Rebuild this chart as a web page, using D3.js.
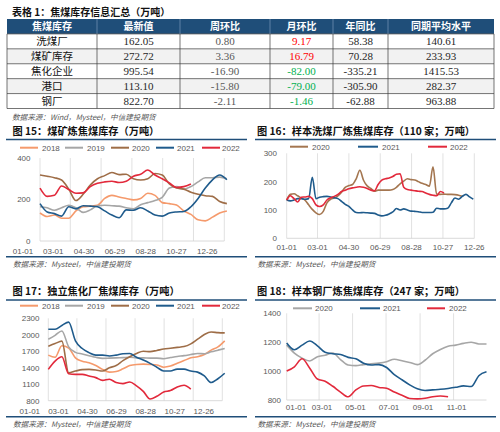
<!DOCTYPE html>
<html><head><meta charset="utf-8">
<script src="https://cdn.jsdelivr.net/npm/d3@7"></script>
<style>body{margin:0;background:#fff}svg{display:block}</style>
</head><body>
<script>
// ---------------- DATA ----------------
const tableTitle = '表格 1：焦煤库存信息汇总（万吨）';
const tableHeaders = ['焦煤库存','最新值','周环比','月环比','年同比','同期平均水平'];
const rowLabels = ['洗煤厂','煤矿库存','焦化企业','港口','钢厂'];
const latest = [162.05, 272.72, 995.54, 113.10, 822.70];
const weekChg = [0.80, 3.36, -16.90, -15.80, -2.11];
const monthChg = [9.17, 16.79, -82.00, -79.00, -1.46];
const yoy = [58.38, 70.28, -335.21, -305.90, -62.88];
const avgLevel = [140.61, 233.93, 1415.53, 282.37, 963.88];
const tableSource = '数据来源：Wind，Mysteel，中信建投期货';
const chartSource = '数据来源：Mysteel，中信建投期货';

const titles = ['图 15：煤矿炼焦煤库存（万吨）','图 16：样本洗煤厂炼焦煤库存（110 家；万吨）',
                '图 17：独立焦化厂焦煤库存（万吨）','图 18：样本钢厂炼焦煤库存（247 家；万吨）'];

// tick labels (day of year positions)
const tickDaysA = [0,59,119,179,239,299,359];
const tickLabelsA = ['01-01','03-01','04-30','06-29','08-28','10-27','12-26'];
const tickDaysB = [0,59,120,181,243,304];
const tickLabelsB = ['01-01','03-01','05-01','07-01','09-01','11-01'];

// Chart 15 (biweekly)
const c15_2018 = [135,118,125,110,110,145,165,168,172,205,220,212,205,198,205,230,220,185,180,173,145,128,102,97,115,135,145];
const c15_2019 = [165,160,148,160,172,160,138,150,170,172,170,168,160,155,175,185,195,210,255,262,250,262,285,305,305,308,300];
const c15_2020 = [318,312,305,294,250,195,225,270,300,315,330,320,322,300,294,300,325,318,275,255,250,235,225,218,215,190,180];
const c15_2021 = [180,140,132,120,165,155,170,168,165,145,125,112,150,148,160,145,125,120,135,140,142,165,205,255,295,318,295];
const c15_2022 = [255,215,220,265,248,230,232,262,278,285,288,282,288,312,322,342,318,300,280,258,262,275];

// Chart 16 (weekly)
const c16_2020 = [135,155,157,150,142,135,118,102,90,84,95,125,138,142,150,163,180,186,190,210,240,205,185,176,166,170,170,170,170,172,180,192,202,210,207,206,200,194,190,184,252,155,155,156,155,155,154,152,148];
const c16_2021 = [135,132,135,140,140,138,140,215,140,145,147,148,146,143,140,130,120,113,100,91,90,91,90,89,88,82,79,81,86,93,105,100,104,100,96,95,94,91,91,91,92,106,104,104,106,125,142,138,148,155,146,138];
const c16_2022 = [135,150,140,128,145,146,148,140,118,112,118,135,143,148,155,165,170,175,178,180,182,180,176,170,168,190,205,210,213,218,226,228,180,172,170,168,166,165,160,155,152,150,165,160];

// Chart 17 (biweekly)
const c17_2018 = [1630,1590,1800,1760,1580,1520,1490,1440,1370,1320,1330,1380,1440,1460,1465,1460,1450,1410,1430,1480,1530,1580,1600,1640,1720,1780,1890];
const c17_2019 = [1920,1990,2070,1780,1680,1650,1620,1590,1570,1575,1580,1585,1590,1580,1580,1575,1575,1565,1585,1605,1620,1640,1660,1655,1690,1720,1750];
const c17_2020 = [1790,1840,1885,1310,1340,1365,1370,1360,1340,1400,1440,1530,1600,1660,1700,1693,1715,1740,1755,1770,1785,1835,1920,2005,2050,2040,2035];
const c17_2021 = [2100,2100,2170,2230,1890,1750,1675,1630,1630,1615,1630,1655,1660,1590,1540,1480,1410,1340,1340,1375,1375,1340,1320,1250,1130,1200,1300];
const c17_2022 = [1370,1520,1600,1290,1280,1280,1250,1220,1170,1190,1130,1110,1140,1070,970,830,880,960,985,1050,1080,1010];

// Chart 18 (biweekly)
const c18_2020 = [1180,1125,1090,1070,1100,1110,1125,1080,1042,1038,1045,1050,1055,1065,1082,1072,1060,1045,1075,1120,1150,1172,1180,1192,1200,1188,1188];
const c18_2021 = [1195,1148,1180,1208,1175,1130,1120,1115,1095,1085,1055,1042,1045,1025,975,940,905,878,866,870,874,880,888,898,893,968,995];
const c18_2022 = [1000,1030,1085,1020,945,930,895,855,822,870,897,900,887,881,855,833,810,808,812,823,828,823];

// ---------------- DRAW ----------------
const CJK = '"Noto Sans CJK SC","Noto Sans",sans-serif';
const SERIF = '"Liberation Serif","Times New Roman",serif';
const SANS = '"Liberation Sans",Arial,sans-serif';
const BLUE = '#1f4e79';
const col = {y2018:'#f59a6c', y2019:'#a6a6a6', y2020:'#9e6d47', y2021:'#1f5b8c', y2022:'#e2293b'};

const svg = d3.select('body').append('svg').attr('width',500).attr('height',432);

// ---- table ----
svg.append('text').attr('x',12).attr('y',16).attr('font-family',CJK).attr('font-size',10)
  .attr('font-weight',700).attr('fill','#111').text(tableTitle);

const rowBand = d3.scaleBand().domain(['__h', ...rowLabels]).range([19,108.5]);
const colEdges = [7,97,180,270,333,388,494];
const colLeft = d3.scaleOrdinal().domain(tableHeaders).range(colEdges.slice(0,6));
const colRight = d3.scaleOrdinal().domain(tableHeaders).range(colEdges.slice(1));
const tbl = svg.append('g');

tbl.append('rect').attr('x',colEdges[0]).attr('y',rowBand('__h')).attr('width',colEdges[6]-colEdges[0])
  .attr('height',rowBand.bandwidth()).attr('fill',BLUE);
tbl.selectAll('text.h').data(tableHeaders).join('text')
  .attr('x',d=>(colLeft(d)+colRight(d))/2).attr('y',rowBand('__h')+rowBand.bandwidth()/2+3.6)
  .attr('text-anchor','middle').attr('font-family',CJK).attr('font-size',10).attr('font-weight',700)
  .attr('fill','#fff').text(d=>d);
tbl.selectAll('rect.r').data(rowLabels).join('rect')
  .attr('x',colEdges[0]).attr('y',d=>rowBand(d)).attr('width',colEdges[6]-colEdges[0])
  .attr('height',rowBand.bandwidth()).attr('fill',(d,i)=>i%2===1?'#f2f2f2':'#fff');
const valueCols = [latest, weekChg, monthChg, yoy, avgLevel];
const fmt = v => v.toFixed(2);
rowLabels.forEach((r,i)=>{
  const cy = rowBand(r)+rowBand.bandwidth()/2+3.6;
  tbl.append('text').attr('x',(colLeft(tableHeaders[0])+colRight(tableHeaders[0]))/2).attr('y',cy)
    .attr('text-anchor','middle').attr('font-family',CJK).attr('font-size',10.5).attr('fill','#111').text(r);
  valueCols.forEach((arr,j)=>{
    const h = tableHeaders[j+1];
    let fill = '#262626';
    if (j===1) fill = '#595959';
    if (j===2) fill = arr[i] >= 0 ? '#ff0000' : '#00b050';
    tbl.append('text').attr('x',(colLeft(h)+colRight(h))/2).attr('y',cy+0.4)
      .attr('text-anchor','middle').attr('font-family',SERIF).attr('font-size',11).attr('fill',fill)
      .text(fmt(arr[i]));
  });
});
const rowEdges = [...rowBand.domain().map(d=>rowBand(d)), rowBand.range()[1]];
rowEdges.slice(1).forEach(yv=>{
  tbl.append('line').attr('x1',colEdges[0]).attr('x2',colEdges[6]).attr('y1',yv).attr('y2',yv)
    .attr('stroke','#3a3a3a').attr('stroke-width',0.7);
});
colEdges.forEach((xv,i)=>{
  tbl.append('line').attr('x1',xv).attr('x2',xv).attr('y1',rowEdges[1]).attr('y2',rowEdges[rowEdges.length-1])
    .attr('stroke','#3a3a3a').attr('stroke-width',0.7);
  if (i>0 && i<6) tbl.append('line').attr('x1',xv).attr('x2',xv).attr('y1',rowEdges[0]).attr('y2',rowEdges[1])
    .attr('stroke','#8aa6c4').attr('stroke-width',0.6);
});
svg.append('text').attr('x',12).attr('y',119.5).attr('font-family',CJK).attr('font-size',7.6)
  .attr('font-style','italic').attr('fill','#595959').text(tableSource);

// ---- chart frames ----
function frame(x0,x1,tx,titleY,lineY,srcLineY,srcY,title){
  svg.append('text').attr('x',tx).attr('y',titleY).attr('font-family',CJK).attr('font-size',10.2)
    .attr('font-weight',700).attr('fill','#111').text(title);
  svg.append('line').attr('x1',x0).attr('x2',x1).attr('y1',lineY).attr('y2',lineY).attr('stroke',BLUE).attr('stroke-width',1.6);
  svg.append('line').attr('x1',x0).attr('x2',x1).attr('y1',srcLineY).attr('y2',srcLineY).attr('stroke',BLUE).attr('stroke-width',1.6);
  svg.append('text').attr('x',tx+0.5).attr('y',srcY).attr('font-family',CJK).attr('font-size',7.6)
    .attr('font-style','italic').attr('fill','#595959').text(chartSource);
}
frame(6,247,12.5,135,139.5,256.7,267,titles[0]);
frame(255,496,257,135,139.5,256.7,267,titles[1]);
frame(6,247,12.5,295,300,416.7,427,titles[2]);
frame(255,496,257,295,300,416.7,427,titles[3]);

function drawChart(cfg){
  const g = svg.append('g');
  const x = d3.scaleLinear().domain(cfg.xDomain).range(cfg.xRange);
  const y = d3.scaleLinear().domain(cfg.yDomain).range(cfg.yRange);
  g.selectAll('line.grid').data(cfg.tickDays).join('line')
    .attr('x1',d=>x(d)).attr('x2',d=>x(d)).attr('y1',y(cfg.yDomain[1])).attr('y2',y(cfg.yDomain[0]))
    .attr('stroke','#d9d9d9').attr('stroke-width',0.8);
  g.append('line').attr('x1',x(cfg.xDomain[0])).attr('x2',x(cfg.xDomain[1]))
    .attr('y1',y(cfg.yDomain[0])).attr('y2',y(cfg.yDomain[0])).attr('stroke','#d0d0d0').attr('stroke-width',0.8);
  g.selectAll('text.yl').data(cfg.yTicks).join('text')
    .attr('x',cfg.yLabelX).attr('y',d=>y(d)+2.9).attr('text-anchor','end')
    .attr('font-family',SANS).attr('font-size',8).attr('fill','#595959').text(d=>d);
  g.selectAll('text.xl').data(cfg.tickDays).join('text')
    .attr('x',d=>Math.max(cfg.labelMin, Math.min(cfg.labelMax, x(d)+cfg.labelDx)))
    .attr('y',cfg.xLabelY+2.9).attr('text-anchor','middle')
    .attr('font-family',SANS).attr('font-size',8).attr('fill','#595959').text((d,i)=>cfg.tickLabels[i]);
  cfg.series.forEach(s=>{
    const line = d3.line().x((v,i)=>x(i*cfg.step)).y(v=>y(v)).curve(d3.curveMonotoneX);
    g.append('path').datum(s.values).attr('d',line).attr('fill','none')
      .attr('stroke',s.color).attr('stroke-width',1.6).attr('stroke-linejoin','round');
  });
  cfg.series.forEach((s,i)=>{
    const lg = cfg.legend[i];
    g.append('line').attr('x1',lg[0]).attr('x2',lg[1]).attr('y1',cfg.legendY).attr('y2',cfg.legendY)
      .attr('stroke',s.color).attr('stroke-width',2);
    g.append('text').attr('x',lg[2]).attr('y',cfg.legendY+2.9).attr('font-family',SANS).attr('font-size',8)
      .attr('fill','#595959').text(s.name);
  });
}

const legend5 = [[20,38,42],[65,83,87],[111,129,132],[156,174,177],[202,220,222]];

drawChart({xDomain:[0,359], xRange:[40,224.3], yDomain:[0,400], yRange:[241,158], yTicks:[0,200,400],
  yLabelX:30.5, xLabelY:250.7, tickDays:tickDaysA, tickLabels:tickLabelsA, labelDx:-17, labelMin:0, labelMax:213.5,
  step:14, legendY:147.7, legend:legend5,
  series:[{name:'2018',values:c15_2018,color:col.y2018},{name:'2019',values:c15_2019,color:col.y2019},
          {name:'2020',values:c15_2020,color:col.y2020},{name:'2021',values:c15_2021,color:col.y2021},
          {name:'2022',values:c15_2022,color:col.y2022}]});

drawChart({xDomain:[0,359], xRange:[286.7,474.3], yDomain:[0,300], yRange:[238.3,153.3], yTicks:[0,100,200,300],
  yLabelX:277, xLabelY:247.3, tickDays:tickDaysA, tickLabels:tickLabelsA, labelDx:0, labelMin:0, labelMax:500,
  step:7, legendY:146.7, legend:[[290,308,312],[358,378,382],[428,447,450]],
  series:[{name:'2020',values:c16_2020,color:'#a47650'},{name:'2021',values:c16_2021,color:col.y2021},
          {name:'2022',values:c16_2022,color:col.y2022}]});

drawChart({xDomain:[0,359], xRange:[48.3,222.3], yDomain:[800,2300], yRange:[400.7,318.3],
  yTicks:[800,1100,1400,1700,2000,2300],
  yLabelX:39.5, xLabelY:410.7, tickDays:tickDaysA, tickLabels:tickLabelsA, labelDx:-18.5, labelMin:0, labelMax:212.5,
  step:14, legendY:305.7, legend:legend5,
  series:[{name:'2018',values:c17_2018,color:col.y2018},{name:'2019',values:c17_2019,color:col.y2019},
          {name:'2020',values:c17_2020,color:col.y2020},{name:'2021',values:c17_2021,color:col.y2021},
          {name:'2022',values:c17_2022,color:col.y2022}]});

drawChart({xDomain:[0,364], xRange:[286.7,486.5], yDomain:[800,1400], yRange:[400,313.3], yTicks:[800,1000,1200,1400],
  yLabelX:281, xLabelY:407.3, tickDays:tickDaysB, tickLabels:tickLabelsB, labelDx:3, labelMin:296, labelMax:500,
  step:14, legendY:308.3, legend:[[293,312,315],[360,380,383],[427,445,449]],
  series:[{name:'2020',values:c18_2020,color:'#a6a6a6'},{name:'2021',values:c18_2021,color:col.y2021},
          {name:'2022',values:c18_2022,color:col.y2022}]});
</script>
</body></html>
